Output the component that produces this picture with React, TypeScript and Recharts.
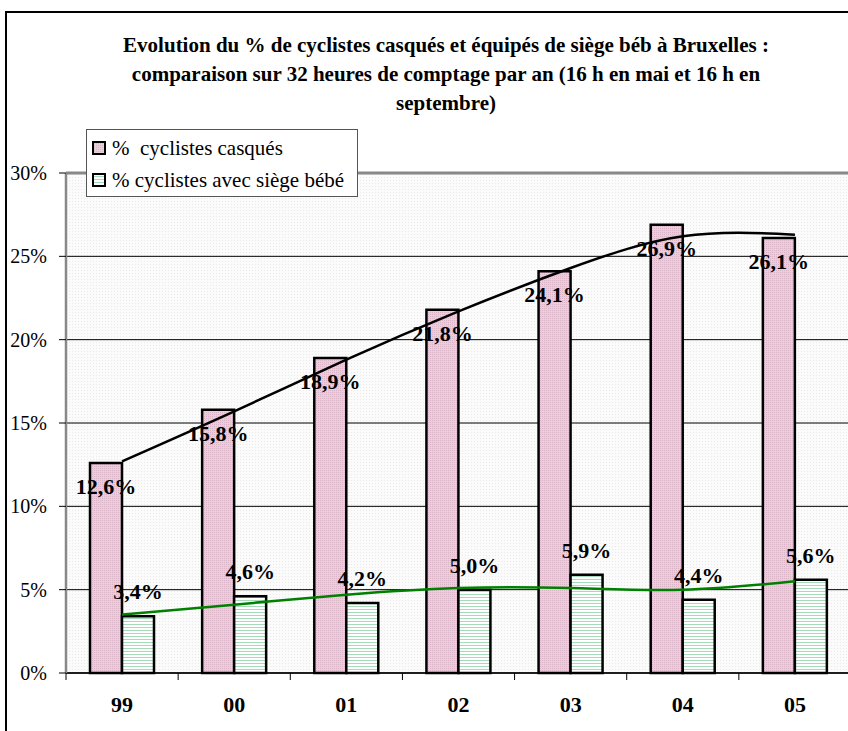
import React from "react";
import {
  ComposedChart,
  Bar,
  Line,
  XAxis,
  YAxis,
  CartesianGrid,
  Legend,
  LabelList,
  ReferenceLine,
} from "recharts";

const categories = ["99", "00", "01", "02", "03", "04", "05"];
const casques = [12.6, 15.8, 18.9, 21.8, 24.1, 26.9, 26.1];
const siege = [3.4, 4.6, 4.2, 5.0, 5.9, 4.4, 5.6];
// trend lines
const casquesTrend = [12.7, 15.7, 18.8, 21.7, 24.3, 26.2, 26.3];
const siegeTrend = [3.5, 4.1, 4.7, 5.1, 5.1, 5.0, 5.5];
const yTicks = [0, 5, 10, 15, 20, 25, 30];

const data = categories.map((c, i) => ({
  year: c,
  casques: casques[i],
  siege: siege[i],
  casquesTrend: casquesTrend[i],
  siegeTrend: siegeTrend[i],
}));

const SERIF = "'Liberation Serif', 'Times New Roman', serif";
const CHART_W = 900;
const CHART_H = 731;
const PLOT_LEFT = 66;
const PLOT_RIGHT = 851;
const BAND = (PLOT_RIGHT - PLOT_LEFT) / categories.length;

const fmt = (v: number) => v.toFixed(1).replace(".", ",") + "%";

function XTick(props: any) {
  const { x, y, payload, index } = props;
  const left = x - BAND / 2;
  return (
    <g>
      <line x1={left} y1={y} x2={left} y2={y + 7} stroke="#000" strokeWidth={1} />
      {index === categories.length - 1 && (
        <line x1={x + BAND / 2} y1={y} x2={x + BAND / 2} y2={y + 7} stroke="#000" />
      )}
      <text
        x={x}
        y={y + 39}
        textAnchor="middle"
        fontFamily={SERIF}
        fontWeight="bold"
        fontSize={22}
        fill="#000"
      >
        {payload.value}
      </text>
    </g>
  );
}

function PinkLabel(props: any) {
  const { x, y, width, value } = props;
  return (
    <text
      x={x + width / 2}
      y={y + 31}
      textAnchor="middle"
      fontFamily={SERIF}
      fontWeight="bold"
      fontSize={22}
      fill="#000"
    >
      {fmt(value)}
    </text>
  );
}

function GreenLabel(props: any) {
  const { x, y, width, value } = props;
  return (
    <text
      x={x + width / 2}
      y={y - 17}
      textAnchor="middle"
      fontFamily={SERIF}
      fontWeight="bold"
      fontSize={22}
      fill="#000"
    >
      {fmt(value)}
    </text>
  );
}

function LegendBox() {
  const rows = [
    { label: "%  cyclistes casqués", fill: "url(#pinkFill)" },
    { label: "% cyclistes avec siège bébé", fill: "url(#greenFill)" },
  ];
  return (
    <div
      style={{
        width: 272,
        height: 68,
        boxSizing: "border-box",
        border: "1.5px solid #555",
        background: "#fff",
        paddingTop: 2,
        fontFamily: SERIF,
        fontSize: 21,
        color: "#000",
      }}
    >
      {rows.map((r) => (
        <div key={r.label} style={{ display: "flex", alignItems: "center", height: 32, whiteSpace: "pre" }}>
          <svg width={14} height={14} style={{ marginLeft: 5, marginRight: 6 }}>
            <rect x={1} y={1} width={12} height={12} fill={r.fill} stroke="#000" strokeWidth={2} />
          </svg>
          <span>{r.label}</span>
        </div>
      ))}
    </div>
  );
}

export default function App() {
  return (
    <div
      style={{
        position: "fixed",
        left: 0,
        top: 0,
        width: 848,
        height: 731,
        overflow: "hidden",
        background: "#fff",
      }}
    >
      <div
        style={{
          position: "absolute",
          left: 5,
          top: 11,
          width: 900,
          height: 800,
          border: "2px solid #000",
        }}
      />
      <div
        style={{
          position: "absolute",
          left: 6,
          top: 31,
          width: 880,
          textAlign: "center",
          fontFamily: SERIF,
          fontWeight: "bold",
          fontSize: 21,
          lineHeight: "29px",
          color: "#000",
        }}
      >
        Evolution du % de cyclistes casqués et équipés de siège béb à Bruxelles :
        <br />
        comparaison sur 32 heures de comptage par an (16 h en mai et 16 h en
        <br />
        septembre)
      </div>
      <div style={{ position: "absolute", left: 0, top: 0 }}>
        <ComposedChart
          width={CHART_W}
          height={CHART_H}
          data={data}
          margin={{ top: 173, right: CHART_W - PLOT_RIGHT, bottom: 18, left: 10 }}
          barGap={0}
        >
          <defs>
            <pattern id="bgFill" width="3" height="3" patternUnits="userSpaceOnUse">
              <rect width="3" height="3" fill="#FBFBFB" />
              <rect width="1" height="1" fill="#EAEAEA" />
            </pattern>
            <pattern id="pinkFill" width="2" height="2" patternUnits="userSpaceOnUse">
              <rect width="2" height="2" fill="#E8D0DB" />
              <rect width="1" height="1" fill="#D8B4C6" />
            </pattern>
            <pattern id="greenFill" width="4" height="3" patternUnits="userSpaceOnUse">
              <rect width="4" height="3" fill="#FFFFFF" />
              <rect width="4" height="1" fill="#A6DBB9" />
            </pattern>
          </defs>
          <CartesianGrid vertical={false} stroke="#000" strokeWidth={1} fill="url(#bgFill)" />
          <ReferenceLine y={30} stroke="#888" strokeWidth={3} />
          <XAxis
            dataKey="year"
            height={40}
            tickLine={false}
            tickSize={0}
            tickMargin={0}
            axisLine={{ stroke: "#000", strokeWidth: 1.5 }}
            tick={<XTick />}
            interval={0}
          />
          <YAxis
            width={56}
            domain={[0, 30]}
            ticks={yTicks}
            tickFormatter={(v: number) => `${v}%`}
            tickSize={7}
            tickMargin={12}
            tickLine={{ stroke: "#000" }}
            axisLine={{ stroke: "#888", strokeWidth: 2.5 }}
            tick={{ fill: "#000", fontSize: 20, fontFamily: SERIF }}
            interval={0}
          />
          <Legend
            layout="vertical"
            align="center"
            verticalAlign="middle"
            content={<LegendBox />}
            wrapperStyle={{ left: 86, top: 129, width: 272, height: 68 }}
          />
          <Bar
            dataKey="casques"
            name="% cyclistes casqués"
            barSize={32}
            fill="url(#pinkFill)"
            stroke="#000"
            strokeWidth={2.5}
            isAnimationActive={false}
          >
            <LabelList dataKey="casques" content={<PinkLabel />} />
          </Bar>
          <Bar
            dataKey="siege"
            name="% cyclistes avec siège bébé"
            barSize={32}
            fill="url(#greenFill)"
            stroke="#000"
            strokeWidth={2.5}
            isAnimationActive={false}
          >
            <LabelList dataKey="siege" content={<GreenLabel />} />
          </Bar>
          <Line
            dataKey="casquesTrend"
            type="natural"
            stroke="#000"
            strokeWidth={2.5}
            dot={false}
            activeDot={false}
            legendType="none"
            isAnimationActive={false}
          />
          <Line
            dataKey="siegeTrend"
            type="natural"
            stroke="#008000"
            strokeWidth={2.5}
            dot={false}
            activeDot={false}
            legendType="none"
            isAnimationActive={false}
          />
        </ComposedChart>
      </div>
    </div>
  );
}
